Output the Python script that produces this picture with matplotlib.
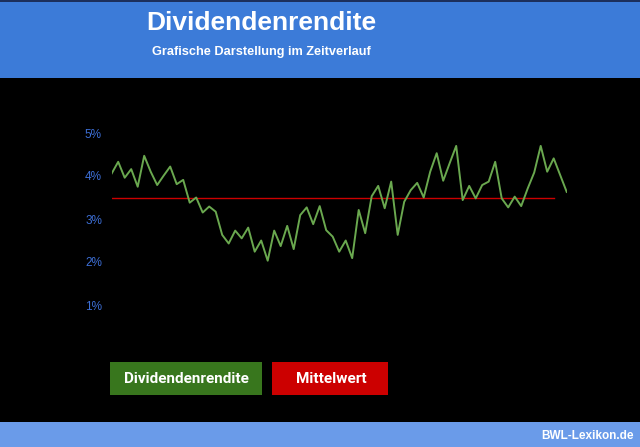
#dividend yield over time with its mean, drawn to look like the BWL-Lexikon graphic

import matplotlib
matplotlib.use("Agg")
import matplotlib.pyplot as plt
from matplotlib.patches import Rectangle

W, H = 640, 447

rendite = [4.06, 4.33, 3.96, 4.16, 3.75, 4.47, 4.10, 3.79, 4.01, 4.22,
           3.81, 3.91, 3.38, 3.50, 3.15, 3.29, 3.17, 2.63, 2.43, 2.73,
           2.55, 2.80, 2.24, 2.50, 2.03, 2.73, 2.37, 2.84, 2.30, 3.09,
           3.27, 2.88, 3.30, 2.74, 2.59, 2.24, 2.50, 2.09, 3.21, 2.67,
           3.53, 3.77, 3.25, 3.87, 2.63, 3.40, 3.67, 3.84, 3.50, 4.10,
           4.53, 3.89, 4.30, 4.70, 3.44, 3.77, 3.48, 3.79, 3.87, 4.33,
           3.48, 3.27, 3.52, 3.30, 3.71, 4.08, 4.70, 4.10, 4.41, 4.02, 3.63]
mittelwert = 3.48
mittel_x = [0, 68]
y_ticks = [1, 2, 3, 4, 5]
y_labels = ["1%", "2%", "3%", "4%", "5%"]

def fx(x):
    return x / W

def fy(y):
    return 1 - y / H

fig = plt.figure(figsize=(6.4, 4.47), dpi=100, facecolor="black")

#header and footer bands
fig.patches.append(Rectangle((0, fy(78)), 1, 78 / H, transform=fig.transFigure,
                             facecolor="#3c7bd8", edgecolor="none"))
fig.patches.append(Rectangle((0, fy(2)), 1, 2 / H, transform=fig.transFigure,
                             facecolor="#1c2f5c", edgecolor="none"))
fig.patches.append(Rectangle((0, 0), 1, 25 / H, transform=fig.transFigure,
                             facecolor="#6a9be9", edgecolor="none"))

fig.text(fx(261), fy(23), "Dividendenrendite", color="white", fontsize=19,
         fontweight="bold", family="Liberation Sans", ha="center", va="center")
fig.text(fx(261), fy(52), "Grafische Darstellung im Zeitverlauf", color="white",
         fontsize=9.2, fontweight="bold", family="Liberation Sans", ha="center", va="center")
fig.text(fx(588), fy(436), "BWL-Lexikon.de", color="white", fontsize=8.5,
         fontweight="bold", family="Liberation Sans", ha="center", va="center")

#chart area
x_left, x_right = 111.7, 566.7
y_top, y_bot = 120, 320
ax = fig.add_axes([fx(x_left), fy(y_bot), (x_right - x_left) / W, (y_bot - y_top) / H])
ax.set_facecolor("none")
ax.set_xlim(0, len(rendite) - 1)
ax.set_ylim((348 - y_bot) / 43, (348 - y_top) / 43)

ax.plot(range(len(rendite)), rendite, color="#6aa84f", lw=1.4, zorder=3)
ax.plot(mittel_x, [mittelwert] * 2, color="#cc0000", lw=1.0, zorder=2)

ax.set_yticks(y_ticks)
ax.set_yticklabels(y_labels, color="#3d6fd6", fontsize=8.5, family="Liberation Sans")
ax.tick_params(axis="y", length=0, pad=7)
ax.set_xticks([])
for s in ax.spines.values():
    s.set_visible(False)

#legend boxes
fig.patches.append(Rectangle((fx(110), fy(395)), 152 / W, 33 / H, transform=fig.transFigure,
                             facecolor="#38761d", edgecolor="none"))
fig.patches.append(Rectangle((fx(272), fy(395)), 116 / W, 33 / H, transform=fig.transFigure,
                             facecolor="#cc0000", edgecolor="none"))
fig.text(fx(186), fy(379), "Dividendenrendite", color="white", fontsize=11,
         fontweight="bold", family="Roboto", ha="center", va="center")
fig.text(fx(331), fy(379), "Mittelwert", color="white", fontsize=11,
         fontweight="bold", family="Roboto", ha="center", va="center")

fig.savefig("out.png", dpi=100, facecolor="black")
